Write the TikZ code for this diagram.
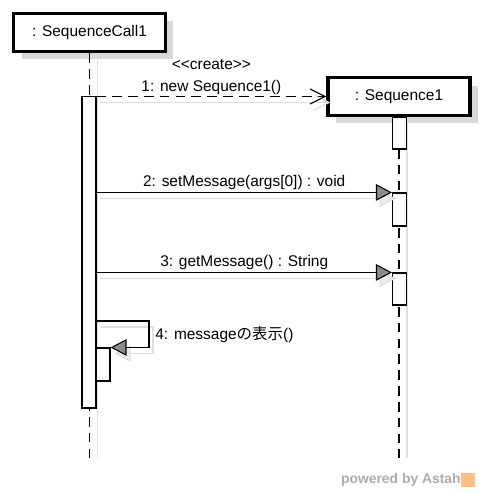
\documentclass[tikz,border=0pt]{standalone}
\usepackage{fontspec}
\setmainfont{Liberation Sans}
\newfontfamily\cjk{Noto Sans CJK JP}
\usetikzlibrary{arrows.meta,shadows}

\tikzset{
  obj/.style={draw, line width=2pt, fill=white, minimum height=0.76cm,
    drop shadow={shadow xshift=0.16cm, shadow yshift=-0.16cm, fill=gray!30, opacity=1}},
  actbar/.style={draw, fill=white, line width=0.6pt, minimum width=0.28cm, inner sep=0pt},
  lifeline/.style={line width=0.6pt, dash pattern=on 5.5pt off 3.5pt},
  sync/.style={line width=0.6pt, -{Triangle[length=0.32cm, width=0.33cm, fill=gray!90]}},
  create/.style={line width=0.6pt, dash pattern=on 5.5pt off 3.5pt, -{Straight Barb[length=0.3cm, width=0.3cm]}},
  shade/.style={draw=gray!25, line width=0.6pt, transform canvas={shift={(4,6)}}},
  shadetip/.style={-{Triangle[length=0.32cm, width=0.33cm, fill=gray!15]}},
  lbl/.style={inner sep=1pt}
}

\begin{document}
\begin{tikzpicture}[x=0.02cm, y=-0.02cm, font=\fontsize{8.8}{12.5}\selectfont]
\useasboundingbox (0,0) rectangle (485,493);
% objects
\node[obj, minimum width=3.04cm] (call1) at (89.5,32.5) {: SequenceCall1};
\node[obj, minimum width=2.84cm] (seq1) at (399,96.5) {: Sequence1};
\coordinate (bottom) at (0,458);
% lifelines
\draw[gray!25, line width=0.6pt] ([xshift=0.16cm]call1.south) -- ([xshift=0.16cm]call1.south |- bottom);
\draw[gray!25, line width=0.6pt] ([xshift=0.16cm]seq1.south) -- ([xshift=0.16cm]seq1.south |- bottom);
\draw[lifeline] (call1.south) -- (call1.south |- bottom);
\draw[lifeline] (seq1.south) -- (seq1.south |- bottom);
% activations
\node[actbar, minimum height=6.24cm] (actA) at (89,252) {};
\node[actbar, minimum height=0.66cm] (actA2) at (103,364.5) {};
\node[actbar, minimum height=0.64cm] (actB1) at (399.5,133) {};
\node[actbar, minimum height=0.66cm] (actB2) at (399.5,209.5) {};
\node[actbar, minimum height=0.64cm] (actB3) at (399.5,289) {};
% messages
\coordinate (self4) at (149,321);
\draw[shade, -{Straight Barb[length=0.3cm, width=0.3cm]}] (actA.east |- seq1.west) -- (seq1.west);
\draw[create] (actA.east |- seq1.west) -- (seq1.west)
  node[midway, above, lbl, align=center] {<\kern0pt<create>\kern0pt>\\1: new Sequence1()};
\draw[shade, shadetip] (actA.east |- actB2.north) -- (actB2.north west);
\draw[sync] (actA.east |- actB2.north) -- (actB2.north west)
  node[midway, above, lbl] {2: setMessage(args[0]) : void};
\draw[shade, shadetip] (actA.east |- actB3.north) -- (actB3.north west);
\draw[sync] (actA.east |- actB3.north) -- (actB3.north west)
  node[midway, above, lbl] {3: getMessage() : String};
\draw[shade, shadetip] (actA.east |- self4) -- (self4) |- (actA2.north east);
\draw[sync] (actA.east |- self4) -- (self4) |- (actA2.north east)
  node[pos=0.25, right] {4: message{\cjk の表示}()};
% watermark
\node[font=\fontsize{7.9}{9}\selectfont\bfseries, text=gray!65, anchor=east, inner sep=0pt] (wm) at (461,480) {powered by Astah};
\node[fill=orange!50, minimum size=0.28cm, inner sep=0pt, anchor=west] (logo) at (wm.east) {};
\end{tikzpicture}
\end{document}
